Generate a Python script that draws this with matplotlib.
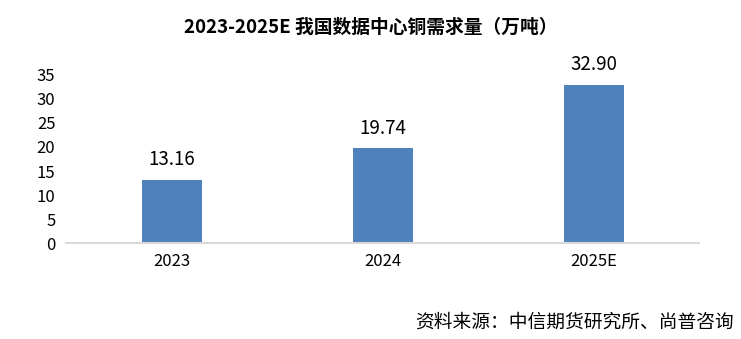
import matplotlib
matplotlib.use('Agg')
import matplotlib.pyplot as plt

plt.rcParams['font.family'] = ['Noto Sans CJK SC', 'DejaVu Sans']

years = ['2023', '2024', '2025E']
demand = [13.16, 19.74, 32.90]
value_labels = ['13.16', '19.74', '32.90']
y_ticks = [0, 5, 10, 15, 20, 25, 30, 35]

fig = plt.figure(figsize=(7.41, 3.39), dpi=100)
ax = fig.add_axes([0.0897, 0.283, 0.854, 0.496])

x = list(range(len(years)))
bars = ax.bar(x, demand, width=0.285, color='#4F81BD')
for b, lab in zip(bars, value_labels):
    ax.text(b.get_x() + b.get_width() / 2, b.get_height() + 2.0, lab,
            ha='center', va='bottom', fontsize=13.5, color='#000000')

ax.set_xlim(-0.5, 2.5)
ax.set_ylim(0, 35)
ax.set_yticks(y_ticks)
ax.set_xticks(x)
ax.set_xticklabels(years)
ax.tick_params(axis='y', length=0, labelsize=12, pad=8)
ax.tick_params(axis='x', length=0, labelsize=12, pad=7)

for s in ['top', 'right', 'left']:
    ax.spines[s].set_visible(False)
ax.spines['bottom'].set_color('#D9D9D9')
ax.spines['bottom'].set_linewidth(1.5)

fig.text(0.5, 0.92, '2023-2025E 我国数据中心铜需求量（万吨）', ha='center', va='center',
         fontsize=13.5, fontweight='bold')
fig.text(0.99, 0.05, '资料来源：中信期货研究所、尚普咨询', ha='right', va='center',
         fontsize=13.5)

fig.savefig('out.png', dpi=100)
